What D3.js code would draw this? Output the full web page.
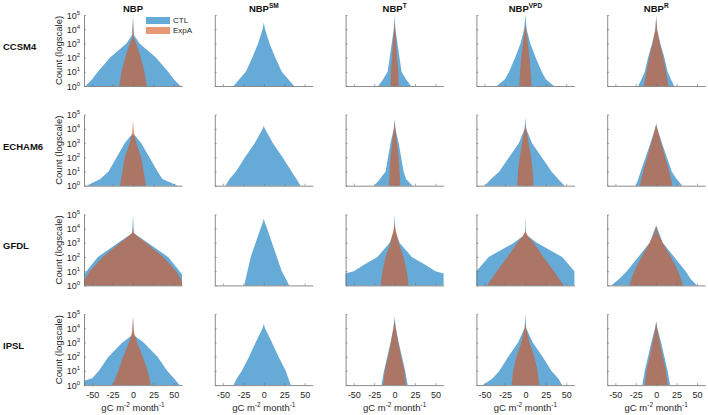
<!DOCTYPE html>
<html><head><meta charset="utf-8">
<script src="https://cdn.jsdelivr.net/npm/d3@7"></script>
<style>body{margin:0;background:#fff} text{font-family:"Liberation Sans",Arial,Helvetica,sans-serif}</style>
</head><body><svg id="c" width="708" height="415"></svg>
<script>
const models = ["CCSM4","ECHAM6","GFDL","IPSL"];
const varBase = ["NBP","NBP","NBP","NBP","NBP"];
const varSup = ["","SM","T","VPD","R"];
const xTicks = [-50,-25,0,25,50];
const yTicks = [1,10,100,1000,10000,100000];
const yTickExp = ["0","1","2","3","4","5"];
const seriesNames = ["CTL","ExpA"];

// Histogram envelopes: [gC m-2 month-1, count]
const ccsm4CTL = [
 [[-58,1],[-50,3],[-43,10],[-28,100],[-8,1000],[-1,4000],[0,100000],[1,4000],[8,1000],[28,100],[43,10],[50,3],[58,1]],
 [[-37,1],[-30,3],[-22,10],[-14,100],[-7,1000],[-1.5,10000],[0,30000],[1.5,10000],[7,1000],[14,100],[22,10],[30,3],[37,1]],
 [[-20,1],[-14,3],[-8.5,10],[-6,100],[-3.5,1000],[-1,10000],[0,100000],[1,10000],[3.5,1000],[6,100],[8.5,10],[14,3],[20,1]],
 [[-35,1],[-25,3],[-20,10],[-12.5,100],[-6,1000],[-1.5,10000],[0,100000],[1.5,10000],[6,1000],[12.5,100],[20,10],[25,3],[35,1]],
 [[-22,1],[-18,3],[-14,10],[-10,100],[-5,1000],[-1,10000],[0,100000],[1,10000],[5,1000],[10,100],[14,10],[18,3],[22,1]]
];
const ccsm4ExpA = [
 [[-17,1],[-14,10],[-9.5,100],[-4,1000],[-1,2500],[0,40000],[1,2500],[4,1000],[9.5,100],[14,10],[17,1]],
 null,
 [[-5,1],[-4.5,10],[-3,100],[-2,1000],[-0.8,10000],[0,32000],[0.8,10000],[2,1000],[3,100],[4.5,10],[5,1]],
 [[-7.5,1],[-6.5,10],[-5,100],[-3,1000],[-1,10000],[0,20000],[1,10000],[3,1000],[5,100],[6.5,10],[7.5,1]],
 [[-15,1],[-12,10],[-8.5,100],[-4.5,1000],[-1,10000],[0,60000],[1,10000],[4.5,1000],[8.5,100],[12,10],[15,1]]
];
const echam6CTL = [
 [[-57,1],[-40,3],[-30,10],[-20,100],[-10,1000],[-3,3200],[0,4000],[3,3200],[10,1000],[20,100],[30,10],[36,3],[55,1]],
 [[-47,1],[-42,3],[-34,10],[-23,100],[-11,1000],[-1.5,10000],[0,16000],[1.5,10000],[11,1000],[23,100],[34,10],[40,3],[45,1]],
 [[-25,1],[-18,3],[-11,10],[-8,100],[-5,1000],[-1,10000],[0,50000],[1,10000],[5,1000],[8,100],[11,10],[14,3],[22,1]],
 [[-50,1],[-42,3],[-32,10],[-20,100],[-8,1000],[-1,10000],[0,63000],[1,10000],[8,1000],[20,100],[32,10],[40,3],[48,1]],
 [[-25,1],[-22,3],[-19,10],[-13,100],[-7,1000],[-1.5,10000],[0,25000],[1.5,10000],[7,1000],[13,100],[19,10],[25,3],[32,1]]
];
const echam6ExpA = [
 [[-16,1],[-13,10],[-10,100],[-4,1000],[-1,6300],[0,40000],[1,6300],[4,1000],[10,100],[13,10],[16,1]],
 null,
 [[-7,1],[-6,10],[-5,100],[-3,1000],[-1,10000],[0,32000],[1,10000],[3,1000],[5,100],[6,10],[7,1]],
 [[-10,1],[-9,10],[-7,100],[-4,1000],[-1,10000],[0,20000],[1,10000],[4,1000],[7,100],[9,10],[10,1]],
 [[-20,1],[-16,10],[-11,100],[-6,1000],[-1.5,10000],[0,20000],[1.5,10000],[6,1000],[11,100],[16,10],[20,1]]
];
const gfdlCTL = [
 [[-60,6],[-57,10],[-43,100],[-18,1000],[-6,3000],[-1,5000],[0,100000],[1,5000],[6,3000],[18,1000],[43,100],[57,10],[60,6]],
 [[-24,1],[-20,10],[-16,100],[-10,1000],[-4,10000],[-1,30000],[0,50000],[1,30000],[4,10000],[10,1000],[16,100],[22,10],[27,3],[31,1]],
 [[-60,7],[-50,10],[-37,30],[-21,100],[-6,1000],[-1,6300],[0,100000],[1,6300],[6,1000],[21,100],[37,30],[50,10],[60,7]],
 [[-60,10],[-45,100],[-14,1000],[-3,3000],[-0.5,5000],[0,100000],[0.5,5000],[3,3000],[14,1000],[45,100],[60,10]],
 [[-55,1],[-45,3],[-36,10],[-22,100],[-8,1000],[-1.5,10000],[0,16000],[1.5,10000],[8,1000],[22,100],[36,10],[42,3],[50,1]]
];
const gfdlExpA = [
 [[-60,2],[-53,10],[-37,100],[-16,1000],[-5,3000],[-1,5000],[0,10000],[1,5000],[5,3000],[16,1000],[37,100],[53,10],[60,2]],
 null,
 [[-17,1],[-15,10],[-11,100],[-5,1000],[-1,10000],[0,20000],[1,10000],[5,1000],[11,100],[15,10],[17,1]],
 [[-47,1],[-35,10],[-22,100],[-10,1000],[-3,3000],[-0.5,6000],[0,8000],[0.5,6000],[3,3000],[10,1000],[22,100],[35,10],[47,1]],
 [[-33,1],[-27,10],[-18,100],[-8,1000],[-2,5000],[0,16000],[2,5000],[8,1000],[18,100],[27,10],[33,1]]
];
const ipslCTL = [
 [[-60,2],[-50,3],[-42,10],[-30,100],[-13,1000],[-1,3200],[0,63000],[1,3200],[13,1000],[30,100],[42,10],[50,3],[57,1]],
 [[-37,1],[-33,3],[-27,10],[-18,100],[-10,1000],[-1.5,10000],[0,20000],[1.5,10000],[10,1000],[18,100],[27,10],[30,3],[33,1]],
 [[-16,1],[-13,10],[-9,100],[-5,1000],[-1.5,10000],[0,63000],[1.5,10000],[5,1000],[9,100],[13,10],[16,1]],
 [[-52,1],[-40,3],[-32,10],[-21,100],[-9,1000],[-1,10000],[0,100000],[1,10000],[9,1000],[21,100],[32,10],[40,3],[45,1]],
 [[-17,1],[-14,10],[-10,100],[-6,1000],[-1.5,10000],[0,32000],[1.5,10000],[6,1000],[10,100],[14,10],[17,1]]
];
const ipslExpA = [
 [[-25,1],[-18,10],[-12,100],[-5,1000],[-1,6300],[0,63000],[1,6300],[5,1000],[12,100],[18,10],[22,1]],
 null,
 [[-14,1],[-12,10],[-8,100],[-4.5,1000],[-1.5,10000],[0,32000],[1.5,10000],[4.5,1000],[8,100],[12,10],[14,1]],
 [[-17,1],[-15,10],[-11,100],[-5,1000],[-1,10000],[0,20000],[1,10000],[5,1000],[11,100],[15,10],[17,1]],
 [[-14,1],[-12,10],[-8,100],[-4.5,1000],[-1,10000],[0,25000],[1,10000],[4.5,1000],[8,100],[12,10],[14,1]]
];

const ctlData = [ccsm4CTL, echam6CTL, gfdlCTL, ipslCTL];
const expData = [ccsm4ExpA, echam6ExpA, gfdlExpA, ipslExpA];
const colors = {CTL:"#0072BD", ExpA:"#D95319"};

const svg = d3.select("#c");
const left0 = 84, colStep = 130.8, pw = 98;
const top0 = 15, rowStep = 99.7, ph = 71;
const axisCol = "#6e6e6e", textCol = "#262626";

models.forEach((m, r) => {
  const top = top0 + r*rowStep;
  const y = d3.scaleLog().domain([1,1e5]).range([top+ph, top]);
  svg.append("text").attr("x",3).attr("y",top+ph/2-0.5).attr("font-size",9.5)
     .attr("font-weight","bold").attr("fill","#111").text(m);
  varBase.forEach((vb, c) => {
    const left = left0 + c*colStep;
    const x = d3.scaleLinear().domain([-60,60]).range([left, left+pw]);
    const g = svg.append("g");
    const area = d3.area().x(d=>x(d[0])).y0(y(1)).y1(d=>y(Math.max(1,d[1])));
    [ctlData[r][c], expData[r][c]].forEach((s, k) => {
      if (!s) return;
      g.append("path").datum(s).attr("d", area)
        .attr("fill", colors[seriesNames[k]]).attr("fill-opacity",0.6);
    });
    const xa = g.append("g").attr("transform",`translate(0,${top+ph})`)
      .call(d3.axisBottom(x).tickValues(xTicks).tickSizeInner(-2).tickSizeOuter(0)
        .tickFormat(r===3 ? (d=>String(d)) : (()=>"")));
    xa.select(".domain").attr("stroke",axisCol).attr("stroke-width",0.8);
    xa.selectAll(".tick line").attr("stroke",axisCol).attr("stroke-width",0.6);
    xa.selectAll(".tick text").attr("font-size",9).attr("fill",textCol).attr("dy","1.1em")
      .attr("font-family","Liberation Sans, Arial, sans-serif");
    const ya = g.append("g").attr("transform",`translate(${left},0)`)
      .call(d3.axisLeft(y).tickValues(yTicks).tickSizeInner(-2).tickSizeOuter(0).tickFormat(()=>""));
    ya.select(".domain").attr("stroke",axisCol).attr("stroke-width",0.8);
    ya.selectAll(".tick line").attr("stroke",axisCol).attr("stroke-width",0.6);
    if (c===0) {
      yTicks.forEach((t,i) => {
        const tx = g.append("text").attr("x",left-4).attr("y",y(t)+3.5)
          .attr("text-anchor","end").attr("font-size",9).attr("fill",textCol);
        tx.append("tspan").text("10");
        tx.append("tspan").attr("font-size",6).attr("dy",-4).text(yTickExp[i]);
      });
      g.append("text").attr("transform",`translate(${left-22},${top+ph/2}) rotate(-90)`)
        .attr("text-anchor","middle").attr("font-size",9.5).attr("fill",textCol)
        .text("Count (logscale)");
    }
    if (r===0) {
      const t = g.append("text").attr("x",left+pw/2).attr("y",12)
        .attr("text-anchor","middle").attr("font-size",9.5).attr("font-weight","bold").attr("fill","#111");
      t.append("tspan").text(vb);
      if (varSup[c]) t.append("tspan").attr("font-size",6.5).attr("dy",-4).text(varSup[c]);
    }
    if (r===3) {
      const t = g.append("text").attr("x",left+pw/2).attr("y",411)
        .attr("text-anchor","middle").attr("font-size",9.5).attr("fill",textCol);
      t.append("tspan").text("gC m");
      t.append("tspan").attr("font-size",6.5).attr("dy",-4).text("-2");
      t.append("tspan").attr("dy",4).text(" month");
      t.append("tspan").attr("font-size",6.5).attr("dy",-4).text("-1");
    }
    if (r===0 && c===0) {
      seriesNames.forEach((n,k) => {
        const ly = 17 + k*10;
        g.append("rect").attr("x",146).attr("y",ly).attr("width",24).attr("height",7)
          .attr("fill",colors[n]).attr("fill-opacity",0.6);
        g.append("text").attr("x",173).attr("y",ly+6).attr("font-size",8).attr("fill",textCol).text(n);
      });
    }
  });
});
</script></body></html>
